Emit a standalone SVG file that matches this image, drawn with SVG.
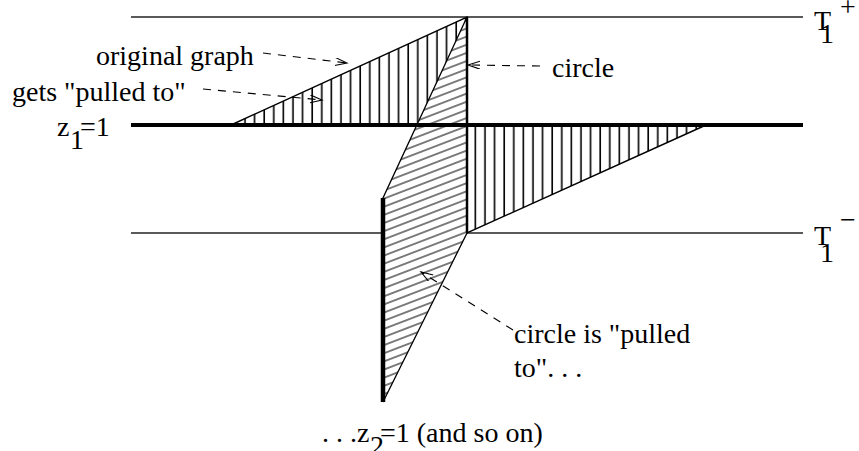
<svg xmlns="http://www.w3.org/2000/svg" width="859" height="451" viewBox="0 0 859 451">
<style>
  text { font-family: "Liberation Serif", "Times New Roman", serif; font-size: 28px; fill: #000; }
  .thin { stroke: #222; stroke-width: 1.3; fill: none; }
  .thick { stroke: #000; stroke-width: 4; fill: none; }
  .dash { stroke: #000; stroke-width: 1.1; fill: none; stroke-dasharray: 8 7; }
</style>
<defs>
  <pattern id="vhatch" patternUnits="userSpaceOnUse" width="9.6" height="20">
    <line x1="5" y1="0" x2="5" y2="20" stroke="#000" stroke-width="1.6"/>
  </pattern>
  <pattern id="dhatch" patternUnits="userSpaceOnUse" width="20" height="7.6" patternTransform="rotate(-21)">
    <line x1="0" y1="3.8" x2="20" y2="3.8" stroke="#000" stroke-width="1"/>
  </pattern>
  <marker id="arr" markerUnits="userSpaceOnUse" markerWidth="14" markerHeight="10" refX="12" refY="4" orient="auto">
    <path d="M0,0 L12,4 L0,8" fill="none" stroke="#000" stroke-width="1.1" stroke-dasharray="none"/>
  </marker>
</defs>

<g id="top-line"><line class="thin" x1="131" y1="17" x2="803" y2="17"/></g>
<g id="bottom-line"><line class="thin" x1="131" y1="233" x2="803" y2="233"/></g>

<g id="left-triangle">
  <polygon points="231,125 467,17 467,125" fill="url(#vhatch)" stroke="#000" stroke-width="1.4"/>
</g>
<g id="right-triangle">
  <polygon points="467,125 706,125 467,233" fill="url(#vhatch)" stroke="#000" stroke-width="1.4"/>
</g>

<g id="circle-region">
  <polygon points="467,17 467,233 383,402 383,198" fill="#fff" stroke="none"/>
  <polygon points="467,17 467,233 383,402 383,198" fill="url(#dhatch)" stroke="#000" stroke-width="1.3"/>
  <line x1="467" y1="17" x2="467" y2="233" stroke="#000" stroke-width="2.5"/>
  <line x1="383" y1="198" x2="383" y2="402" stroke="#000" stroke-width="4.5"/>
</g>

<g id="z1-line">
  <line class="thick" x1="131" y1="125" x2="467" y2="125"/>
  <line class="thick" x1="467" y1="125" x2="803" y2="125"/>
</g>

<g id="connectors">
  <line class="dash" x1="263" y1="53" x2="347" y2="63" marker-end="url(#arr)"/>
  <line class="dash" x1="203" y1="89" x2="322" y2="100" marker-end="url(#arr)"/>
  <line class="dash" x1="540" y1="66" x2="468" y2="65" marker-end="url(#arr)"/>
  <line class="dash" x1="513" y1="330" x2="421" y2="272" marker-end="url(#arr)"/>
</g>

<g id="label-original-graph"><text x="96" y="65">original graph</text></g>
<g id="label-gets-pulled"><text x="12" y="101">gets "pulled to"</text></g>
<g id="label-circle"><text x="552" y="77">circle</text></g>
<g id="label-circle-pulled">
  <text x="514" y="343">circle is "pulled</text>
  <text x="514" y="377">to". . .</text>
</g>
<g id="label-z1">
  <text x="57" y="136">z</text>
  <text x="70" y="149">1</text>
  <text x="80" y="136">=1</text>
</g>
<g id="label-z2">
  <text x="322" y="442">. . .z</text>
  <text x="370" y="455">2</text>
  <text x="380" y="442">=1 (and so on)</text>
</g>
<g id="label-T1plus">
  <text x="814" y="30">T</text>
  <text x="820" y="43">1</text>
  <text x="840" y="16">+</text>
</g>
<g id="label-T1minus">
  <text x="814" y="245">T</text>
  <text x="820" y="262">1</text>
  <text x="840" y="229">−</text>
</g>
</svg>
